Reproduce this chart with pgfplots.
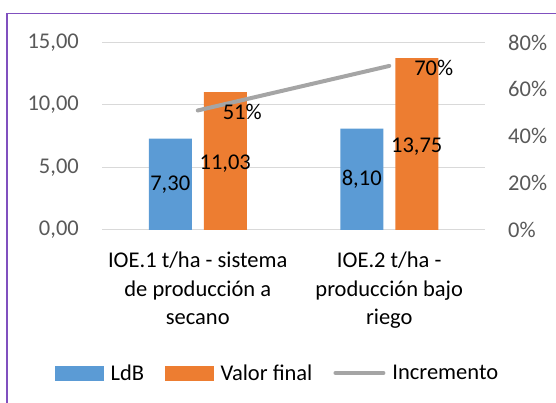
\documentclass[border=0pt]{standalone}
\usepackage{fontspec}
\setmainfont{Carlito}
\usepackage{pgfplots}
\pgfplotsset{compat=1.18}
\definecolor{cblue}{HTML}{5B9BD5}
\definecolor{corange}{HTML}{ED7D31}
\definecolor{cgray}{HTML}{A5A5A5}
\definecolor{cgrid}{HTML}{D9D9D9}
\definecolor{ctick}{HTML}{595959}
\definecolor{cborder}{HTML}{8050BF}
\newcommand{\fs}{\fontsize{22.5}{22.5}\selectfont}
\begin{document}
\begin{tikzpicture}[x=1pt,y=1pt]
\useasboundingbox (0,0) rectangle (556,403);
\begin{scope}
\clip (0,0) rectangle (556,403);
\draw[cborder, line width=1.5pt] (7,-20) rectangle (580,389.5);
\end{scope}
\begin{axis}[
  at={(102pt,173pt)}, anchor=south west, scale only axis,
  width=383pt, height=187.5pt,
  xmin=-0.5, xmax=1.5, ymin=0, ymax=15,
  xtick={0,1},
  xticklabels={{IOE.1 t/ha - sistema\\de producción a\\secano},{IOE.2 t/ha -\\producción bajo\\riego}},
  ytick={0,5,10,15},
  ymajorgrids, grid style={cgrid, line width=1pt},
  axis line style={draw=none}, major tick length=0pt,
  /pgf/number format/assume math mode=true,
  yticklabel style={font=\fs, text=ctick, inner sep=0pt, anchor=east, xshift=-23pt,
    /pgf/number format/.cd, fixed, fixed zerofill, precision=2, use comma},
  xticklabel style={font=\fontsize{22.5}{28.5}\selectfont, align=center, anchor=north, inner sep=0pt, yshift=-22pt},
  clip=false,
]
\addplot[ybar, bar width=43pt, bar shift=-27.5pt, fill=cblue, draw=none,
  point meta=y, visualization depends on={y \as \rawy},
  nodes near coords={\pgfmathprintnumber[fixed,fixed zerofill,precision=2,use comma,assume math mode=true]{\pgfplotspointmeta}},
  every node near coord/.append style={font=\fs, text=black, anchor=center, inner sep=0pt, xshift=-27.5pt, yshift=-\rawy*6.25pt}]
  coordinates {(0,7.30) (1,8.10)};
\addplot[ybar, bar width=43pt, bar shift=27.5pt, fill=corange, draw=none,
  point meta=y, visualization depends on={y \as \rawy},
  nodes near coords={\pgfmathprintnumber[fixed,fixed zerofill,precision=2,use comma,assume math mode=true]{\pgfplotspointmeta}},
  every node near coord/.append style={font=\fs, text=black, anchor=center, inner sep=0pt, xshift=27.5pt, yshift=-\rawy*6.25pt-3pt}]
  coordinates {(0,11.03) (1,13.75)};
\end{axis}
\begin{axis}[
  at={(102pt,173pt)}, anchor=south west, scale only axis,
  width=383pt, height=187.5pt,
  xmin=-0.5, xmax=1.5, ymin=0, ymax=0.8,
  axis y line*=right, axis x line=none,
  ytick={0,0.2,0.4,0.6,0.8},
  axis line style={draw=none}, major tick length=0pt,
  yticklabel={\pgfmathparse{\tick*100}\pgfmathprintnumber[fixed,precision=0,assume math mode=true]{\pgfmathresult}\%},
  yticklabel style={font=\fs, text=ctick, inner sep=0pt, anchor=west, xshift=23pt},
  clip=false,
  legend style={at={(axis description cs:-0.1227,-0.7627)}, anchor=west, draw=none, fill=none,
    font=\fs, inner sep=0pt, nodes={inner sep=3pt},
    /tikz/every odd column/.append style={column sep=4pt},
    /tikz/every even column/.append style={column sep=18pt}},
  legend columns=3, legend cell align=left,
]
\addplot[cgray, line width=4pt, line cap=round, mark=none, forget plot,
  point meta=explicit symbolic, nodes near coords,
  every node near coord/.append style={font=\fs, text=black, anchor=west, inner sep=0pt, xshift=23pt, yshift=-1.5pt}]
  coordinates {(0,0.51) [51\%] (1,0.70) [70\%]};
\addlegendimage{legend image code/.code={\fill[cblue] (0pt,-7pt) rectangle (48pt,7pt);}}
\addlegendentry{LdB}
\addlegendimage{legend image code/.code={\fill[corange] (0pt,-7pt) rectangle (48pt,7pt);}}
\addlegendentry{Valor final}
\addlegendimage{legend image code/.code={\draw[cgray, line width=4pt, line cap=round] (-3pt,0pt) -- (45pt,0pt);}}
\addlegendentry{Incremento}
\end{axis}
\end{tikzpicture}
\end{document}
